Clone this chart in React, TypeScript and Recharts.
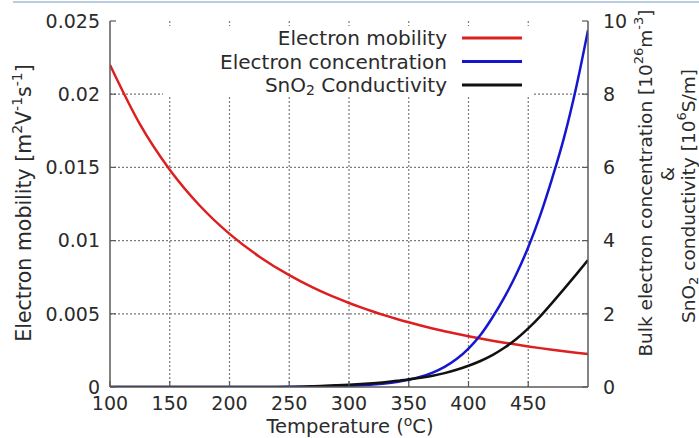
import React from 'react';
import { LineChart, Line, XAxis, YAxis, ReferenceLine, Legend } from 'recharts';

const FONT = '"DejaVu Sans", Verdana, sans-serif';
const TEXT = '#2b2b2b';

const temperatures = [100, 125, 150, 175, 200, 225, 250, 260, 270, 280, 290, 300, 310, 320, 330, 340, 350, 360, 370, 380, 390, 400, 410, 420, 430, 440, 450, 460, 470, 480, 490, 500];
const mobility = [0.022, 0.017957, 0.014841, 0.012398, 0.01046, 0.008903, 0.0076376, 0.0071979, 0.0067912, 0.0064141, 0.0060643, 0.0057394, 0.0054369, 0.0051553, 0.0048921, 0.0046466, 0.0044174, 0.0042027, 0.0040014, 0.0038126, 0.0036355, 0.0034692, 0.0033128, 0.0031656, 0.0030265, 0.0028956, 0.0027722, 0.0026556, 0.0025454, 0.0024411, 0.0023423, 0.0022488];
const concentration = [0, 0, 0, 0, 0, 0, 0.0044, 0.0065, 0.0096, 0.014, 0.021, 0.031, 0.046, 0.067, 0.097, 0.139, 0.198, 0.279, 0.393, 0.549, 0.763, 1.05, 1.42, 1.9, 2.45, 3.08, 3.82, 4.69, 5.7, 6.82, 8.17, 9.75];
const conductivity = [0, 0, 0, 0, 0, 0, 0.003, 0.01, 0.02, 0.033, 0.047, 0.063, 0.082, 0.105, 0.133, 0.168, 0.21, 0.255, 0.31, 0.38, 0.47, 0.58, 0.71, 0.87, 1.07, 1.31, 1.6, 1.93, 2.3, 2.68, 3.07, 3.47];

const xTicks = [100, 150, 200, 250, 300, 350, 400, 450];
const leftTicks = [0, 0.005, 0.01, 0.015, 0.02, 0.025];
const rightTicks = [0, 2, 4, 6, 8, 10];
const xGrid = [150, 200, 250, 300, 350, 400, 450];
const yGrid = [0.005, 0.01, 0.015, 0.02];

const seriesNames = ['Electron mobility', 'Electron concentration', 'SnO2 Conductivity'];
const seriesColors = ['#dd1f1f', '#1616d0', '#111111'];

const data = temperatures.map((t, i) => ({
  t,
  mobility: mobility[i],
  concentration: concentration[i],
  conductivity: conductivity[i],
}));

const tickStyle = { fill: TEXT, fontSize: 19, fontFamily: FONT };
const AXIS = '#5a5a5a';
const GRID = '#7a7a7a';

const LegendBox = () => (
  <svg width={371} height={71} style={{ display: 'block' }}>
    {seriesNames.map((name, i) => {
      const y = 12 + i * 23.5;
      return (
        <g key={name}>
          <text x={284} y={y} textAnchor="end" dominantBaseline="central" fill={TEXT} fontSize={20} fontFamily={FONT}>
            {name.startsWith('SnO2') ? (
              <>
                SnO<tspan dy={5} fontSize={14}>2</tspan>
                <tspan dy={-5}> Conductivity</tspan>
              </>
            ) : (
              name
            )}
          </text>
          <line x1={299} x2={359} y1={y} y2={y} stroke={seriesColors[i]} strokeWidth={3} />
        </g>
      );
    })}
  </svg>
);

const XLabel = () => (
  <text x={350} y={433} textAnchor="middle" fill={TEXT} fontSize={19.5} fontFamily={FONT}>
    Temperature (<tspan dy={-7} fontSize={14}>o</tspan>
    <tspan dy={7}>C)</tspan>
  </text>
);

const LeftLabel = () => (
  <text
    x={24}
    y={203}
    transform="rotate(-90, 24, 203)"
    textAnchor="middle"
    dominantBaseline="central"
    fill={TEXT}
    fontSize={20.5}
    fontFamily={FONT}
  >
    Electron mobility [m<tspan dy={-7} fontSize={14}>2</tspan>
    <tspan dy={7}>V</tspan>
    <tspan dy={-7} fontSize={14}>-1</tspan>
    <tspan dy={7}>s</tspan>
    <tspan dy={-7} fontSize={14}>-1</tspan>
    <tspan dy={7}>]</tspan>
  </text>
);

const RightLabel = () => (
  <g fill={TEXT} fontSize={18.5} fontFamily={FONT}>
    <text x={645} y={183} transform="rotate(-90, 645, 183)" textAnchor="middle" dominantBaseline="central">
      Bulk electron concentration [10<tspan dy={-7} fontSize={13}>26</tspan>
      <tspan dy={7}>m</tspan>
      <tspan dy={-7} fontSize={13}>-3</tspan>
      <tspan dy={7}>]</tspan>
    </text>
    <text x={667} y={174} transform="rotate(-90, 667, 174)" textAnchor="middle" dominantBaseline="central">
      &amp;
    </text>
    <text x={688} y={196} transform="rotate(-90, 688, 196)" textAnchor="middle" dominantBaseline="central">
      SnO<tspan dy={5} fontSize={13}>2</tspan>
      <tspan dy={-5}> conductivity [10</tspan>
      <tspan dy={-7} fontSize={13}>6</tspan>
      <tspan dy={7}>S/m]</tspan>
    </text>
  </g>
);

export default function App() {
  return (
    <div style={{ position: 'absolute', left: 0, top: 0, width: 699, height: 438, background: '#fff' }}>
      <div style={{ position: 'absolute', left: 13, top: 1, width: 686, height: 2, background: '#b9cde2' }} />
      <LineChart
        width={699}
        height={438}
        data={data}
        margin={{ top: 21, right: 0, bottom: 0, left: 0 }}
      >
        <XAxis
          xAxisId={0}
          dataKey="t"
          type="number"
          domain={[100, 500]}
          ticks={xTicks}
          height={51}
          axisLine={{ stroke: AXIS, strokeWidth: 1.5 }}
          tickLine={{ stroke: AXIS, strokeWidth: 1.2 }}
          tickSize={-6}
          tickMargin={16}
          tick={tickStyle}
          label={<XLabel />}
          allowDataOverflow
        />
        <XAxis
          xAxisId="top"
          dataKey="t"
          type="number"
          orientation="top"
          domain={[100, 500]}
          ticks={xTicks}
          height={0}
          axisLine={{ stroke: AXIS, strokeWidth: 1.5 }}
          tickLine={{ stroke: AXIS, strokeWidth: 1.2 }}
          tickSize={-6}
          tickFormatter={() => ''}
        />
        <YAxis
          yAxisId={0}
          domain={[0, 0.025]}
          ticks={leftTicks}
          width={110}
          axisLine={{ stroke: AXIS, strokeWidth: 1.5 }}
          tickLine={{ stroke: AXIS, strokeWidth: 1.2 }}
          tickSize={-6}
          tickMargin={16}
          tick={tickStyle}
          label={<LeftLabel />}
          allowDataOverflow
        />
        <YAxis
          yAxisId="right"
          orientation="right"
          domain={[0, 10]}
          ticks={rightTicks}
          width={111}
          axisLine={{ stroke: AXIS, strokeWidth: 1.5 }}
          tickLine={{ stroke: AXIS, strokeWidth: 1.2 }}
          tickSize={-6}
          tickMargin={21}
          tick={tickStyle}
          label={<RightLabel />}
          allowDataOverflow
        />
        {xGrid.map((v) => (
          <ReferenceLine
            key={`gx${v}`}
            x={v}
            xAxisId={0}
            yAxisId={0}
            ifOverflow="visible"
            stroke={GRID}
            strokeOpacity={1}
            strokeWidth={1.2}
            strokeDasharray="2 2"
          />
        ))}
        {yGrid.map((v) => (
          <ReferenceLine
            key={`gy${v}`}
            y={v}
            xAxisId={0}
            yAxisId={0}
            ifOverflow="visible"
            stroke={GRID}
            strokeOpacity={1}
            strokeWidth={1.2}
            strokeDasharray="2 2"
          />
        ))}
        <Legend
          layout="vertical"
          align="center"
          verticalAlign="middle"
          content={<LegendBox />}
          wrapperStyle={{ position: 'absolute', left: 163, top: 26, width: 371, height: 71, background: '#fff' }}
        />
        <Line
          yAxisId={0}
          type="monotone"
          dataKey="mobility"
          stroke={seriesColors[0]}
          strokeWidth={2.5}
          dot={false}
          isAnimationActive={false}
        />
        <Line
          type="monotone"
          dataKey="concentration"
          yAxisId="right"
          stroke={seriesColors[1]}
          strokeWidth={2.5}
          dot={false}
          isAnimationActive={false}
        />
        <Line
          type="monotone"
          dataKey="conductivity"
          yAxisId="right"
          stroke={seriesColors[2]}
          strokeWidth={2.5}
          dot={false}
          isAnimationActive={false}
        />
      </LineChart>
    </div>
  );
}
